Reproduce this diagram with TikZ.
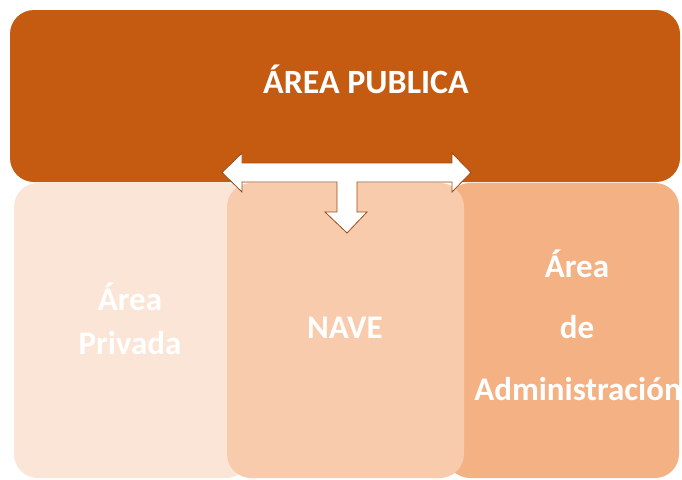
\documentclass[tikz,border=0pt]{standalone}
\usepackage{fontspec}
\setmainfont{Carlito}
\definecolor{pubc}{HTML}{C55A11}
\definecolor{privc}{HTML}{FBE5D6}
\definecolor{navec}{HTML}{F8CBAD}
\definecolor{admc}{HTML}{F4B183}
\definecolor{arrc}{HTML}{9C4A16}
\tikzset{
  areabox/.style={rounded corners=24pt},
  lbl/.style={text=white, font=\bfseries\fontsize{33}{38}\selectfont, anchor=base, inner sep=0pt},
  toplbl/.style={text=white, font=\bfseries\fontsize{34}{40}\selectfont, anchor=base, inner sep=0pt}
}
\begin{document}
\begin{tikzpicture}[x=1pt,y=-1pt]
\useasboundingbox (0,0) rectangle (682,479);
% lower boxes
\fill[privc, areabox] (14,183) rectangle (250,478);
\fill[admc, areabox] (446,183) rectangle (679,478);
\fill[navec, areabox] (227,183) rectangle (464,478);
% top box
\fill[pubc, areabox] (10,10) rectangle (680,182);
% labels
\node[toplbl] (pub) at (366,93) {ÁREA PUBLICA};
\node[lbl] (priv1) at (130,310) {Área};
\node[lbl] (priv2) at (130,354) {Privada};
\node[lbl] (nave) at (345,338) {NAVE};
\node[lbl] (adm1) at (577,277) {Área};
\node[lbl] (adm2) at (577,338) {de};
\node[lbl] (adm3) at (578,400) {Administración};
% T-shaped arrow
\filldraw[fill=white, draw=arrc, line width=0.8pt, line join=miter]
  (222,172.5) -- (242,153) -- (242,163) -- (452,163) -- (452,153) -- (471,172.5)
  -- (452,192) -- (452,182) -- (357,182) -- (357,212) -- (367,212) -- (347,233)
  -- (325,212) -- (337,212) -- (337,182) -- (242,182) -- (242,192) -- cycle;
\end{tikzpicture}
\end{document}
